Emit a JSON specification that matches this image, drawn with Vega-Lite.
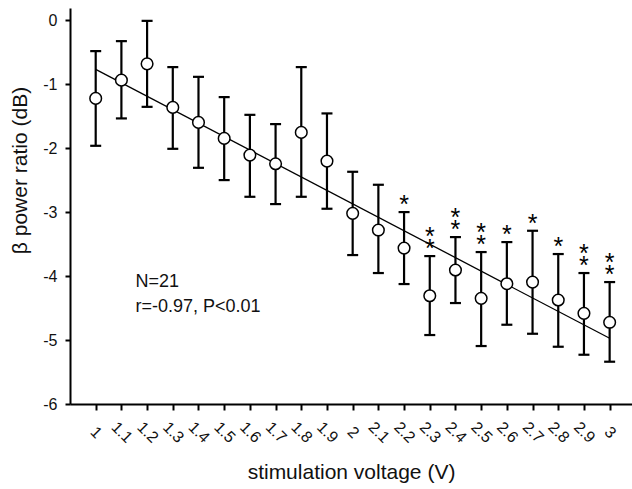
{
  "$schema": "https://vega.github.io/schema/vega-lite/v6.json",
  "width": 562,
  "height": 396,
  "autosize": {"type": "none"},
  "padding": {"left": 70, "top": 8, "right": 0, "bottom": 85},
  "config": {
    "view": {"stroke": null},
    "font": "Liberation Sans",
    "axis": {
      "grid": false,
      "domainColor": "#000000",
      "domainWidth": 2,
      "tickColor": "#000000",
      "tickWidth": 2,
      "labelColor": "#111111",
      "titleColor": "#111111",
      "labelFont": "Liberation Sans",
      "titleFont": "Liberation Sans",
      "titleFontWeight": "normal"
    }
  },
  "datasets": {
    "pts": [
      {"v": 1.0, "m": -1.223, "hi": -0.484, "lo": -1.964, "sig": 0},
      {"v": 1.1, "m": -0.938, "hi": -0.328, "lo": -1.536, "sig": 0},
      {"v": 1.2, "m": -0.683, "hi": -0.011, "lo": -1.355, "sig": 0},
      {"v": 1.3, "m": -1.364, "hi": -0.734, "lo": -2.011, "sig": 0},
      {"v": 1.4, "m": -1.598, "hi": -0.886, "lo": -2.308, "sig": 0},
      {"v": 1.5, "m": -1.848, "hi": -1.203, "lo": -2.5, "sig": 0},
      {"v": 1.6, "m": -2.109, "hi": -1.48, "lo": -2.761, "sig": 0},
      {"v": 1.7, "m": -2.245, "hi": -1.625, "lo": -2.875, "sig": 0},
      {"v": 1.8, "m": -1.755, "hi": -0.734, "lo": -2.761, "sig": 0},
      {"v": 1.9, "m": -2.203, "hi": -1.458, "lo": -2.948, "sig": 0},
      {"v": 2.0, "m": -3.02, "hi": -2.37, "lo": -3.672, "sig": 0},
      {"v": 2.1, "m": -3.281, "hi": -2.573, "lo": -3.953, "sig": 0},
      {"v": 2.2, "m": -3.563, "hi": -3.0, "lo": -4.125, "sig": 1},
      {"v": 2.3, "m": -4.308, "hi": -3.688, "lo": -4.922, "sig": 2},
      {"v": 2.4, "m": -3.906, "hi": -3.391, "lo": -4.422, "sig": 2},
      {"v": 2.5, "m": -4.348, "hi": -3.625, "lo": -5.094, "sig": 2},
      {"v": 2.6, "m": -4.12, "hi": -3.469, "lo": -4.761, "sig": 1},
      {"v": 2.7, "m": -4.094, "hi": -3.292, "lo": -4.902, "sig": 1},
      {"v": 2.8, "m": -4.375, "hi": -3.656, "lo": -5.105, "sig": 1},
      {"v": 2.9, "m": -4.583, "hi": -3.953, "lo": -5.23, "sig": 2},
      {"v": 3.0, "m": -4.723, "hi": -4.094, "lo": -5.339, "sig": 2}
    ],
    "fit": [
      {"v": 1.0, "f": -0.77},
      {"v": 3.0, "f": -4.973}
    ],
    "notes": [
      {"v": 1.155, "y": -4.17, "t": "N=21"},
      {"v": 1.155, "y": -4.56, "t": "r=-0.97, P<0.01"}
    ]
  },
  "layer": [
    {
      "data": {"name": "fit"},
      "mark": {"type": "line", "color": "#000000", "strokeWidth": 1.3},
      "encoding": {
        "x": {
          "field": "v",
          "type": "quantitative",
          "scale": {"domain": [0.9, 3.087], "nice": false, "zero": false},
          "axis": {
            "title": "stimulation voltage (V)",
            "titleFontSize": 21,
            "titleY": 74,
            "titleBaseline": "alphabetic",
            "values": [1, 1.1, 1.2, 1.3, 1.4, 1.5, 1.6, 1.7, 1.8, 1.9, 2, 2.1, 2.2, 2.3, 2.4, 2.5, 2.6, 2.7, 2.8, 2.9, 3],
            "tickCount": 30,
            "labelExpr": "'' + datum.value",
            "labelAngle": 45,
            "labelAlign": "center",
            "labelBaseline": "middle",
            "labelPadding": 22,
            "labelFontSize": 16,
            "labelDx": -1,
            "tickSize": 6,
            "labelOverlap": false,
            "labelBound": false,
            "labelFlush": false
          }
        },
        "y": {
          "field": "f",
          "type": "quantitative",
          "title": "β power ratio (dB)",
          "scale": {"domain": [-6, 0.19], "nice": false, "zero": false},
          "axis": {
            "values": [-6, -5, -4, -3, -2, -1, 0],
            "tickCount": 10,
            "labelExpr": "'' + datum.value",
            "labelFontSize": 16,
            "labelPadding": 8,
            "tickSize": 5,
            "titleFontSize": 21,
            "titleX": -50,
            "titleY": 162,
            "titleAlign": "center",
            "titleBaseline": "middle",
            "titleAngle": -90
          }
        }
      }
    },
    {
      "data": {"name": "pts"},
      "mark": {"type": "rule", "color": "#000000", "strokeWidth": 2.2},
      "encoding": {
        "x": {"field": "v", "type": "quantitative"},
        "y": {"field": "lo", "type": "quantitative", "title": "β power ratio (dB)"},
        "y2": {"field": "hi"}
      }
    },
    {
      "data": {"name": "pts"},
      "mark": {"type": "tick", "orient": "horizontal", "color": "#000000", "size": 11, "thickness": 2.2, "opacity": 1},
      "encoding": {
        "x": {"field": "v", "type": "quantitative"},
        "y": {"field": "hi", "type": "quantitative", "title": "β power ratio (dB)"}
      }
    },
    {
      "data": {"name": "pts"},
      "mark": {"type": "tick", "orient": "horizontal", "color": "#000000", "size": 11, "thickness": 2.2, "opacity": 1},
      "encoding": {
        "x": {"field": "v", "type": "quantitative"},
        "y": {"field": "lo", "type": "quantitative", "title": "β power ratio (dB)"}
      }
    },
    {
      "data": {"name": "pts"},
      "mark": {"type": "point", "shape": "circle", "filled": false, "fill": "#ffffff", "fillOpacity": 1, "stroke": "#000000", "strokeWidth": 1.5, "size": 135, "opacity": 1},
      "encoding": {
        "x": {"field": "v", "type": "quantitative"},
        "y": {"field": "m", "type": "quantitative", "title": "β power ratio (dB)"}
      }
    },
    {
      "data": {"name": "pts"},
      "transform": [{"filter": "datum.sig >= 1"}],
      "mark": {"type": "text", "text": "*", "fontSize": 25, "color": "#000000", "baseline": "alphabetic", "align": "center", "dy": 1},
      "encoding": {
        "x": {"field": "v", "type": "quantitative"},
        "y": {"field": "hi", "type": "quantitative", "title": "β power ratio (dB)"}
      }
    },
    {
      "data": {"name": "pts"},
      "transform": [{"filter": "datum.sig >= 2"}],
      "mark": {"type": "text", "text": "*", "fontSize": 25, "color": "#000000", "baseline": "alphabetic", "align": "center", "dy": -11.5},
      "encoding": {
        "x": {"field": "v", "type": "quantitative"},
        "y": {"field": "hi", "type": "quantitative", "title": "β power ratio (dB)"}
      }
    },
    {
      "data": {"name": "notes"},
      "mark": {"type": "text", "fontSize": 18, "color": "#111111", "baseline": "alphabetic", "align": "left"},
      "encoding": {
        "x": {"field": "v", "type": "quantitative"},
        "y": {"field": "y", "type": "quantitative", "title": "β power ratio (dB)"},
        "text": {"field": "t"}
      }
    }
  ]
}
